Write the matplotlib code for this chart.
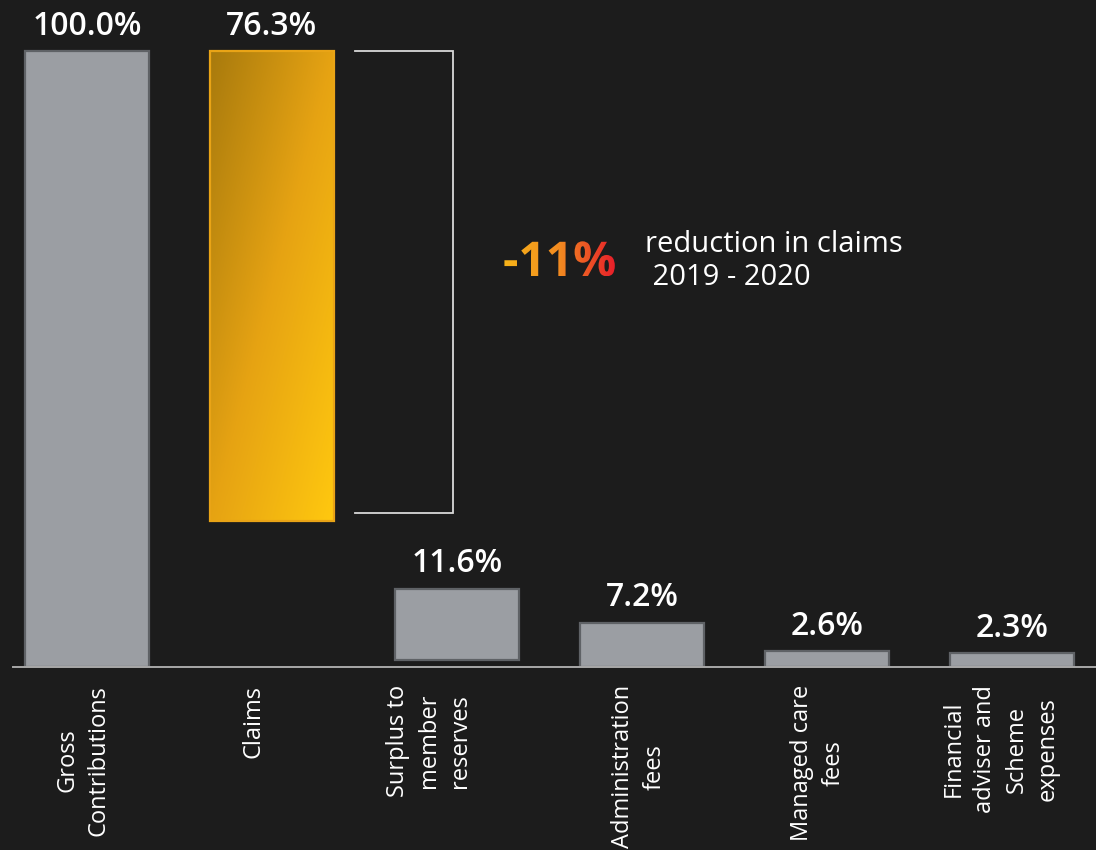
import matplotlib.pyplot as plt
import numpy as np
from matplotlib.colors import LinearSegmentedColormap
from matplotlib.font_manager import FontProperties
from matplotlib.patches import PathPatch
from matplotlib.textpath import TextPath
from matplotlib.transforms import Affine2D, ScaledTranslation

categories = ["Gross\nContributions", "Claims", "Surplus to\nmember\nreserves",
              "Administration\nfees", "Managed care\nfees",
              "Financial\nadviser and\nScheme\nexpenses"]
values = [100.0, 76.3, 11.6, 7.2, 2.6, 2.3]
bottoms = [0.0, 23.7, 1.1, 0.0, 0.0, 0.0]
labels = ["100.0%", "76.3%", "11.6%", "7.2%", "2.6%", "2.3%"]

bracket_top = 100.0
bracket_bottom = 25.0
change_text = "-11%"
change_note = "reduction in claims\n 2019 - 2020"

bg = "#1c1c1c"
grey = "#9b9ea3"
grey_edge = "#5f6266"
font = "Open Sans"
# horizontal nudge (px) for each category label
label_shift = [-4, -18, -28, -3, -9, -11]

W, H, dpi = 1096, 850, 100
fig = plt.figure(figsize=(W / dpi, H / dpi), dpi=dpi, facecolor=bg)
ax = fig.add_axes([13 / W, (H - 667) / H, 1083 / W, 665 / H])
ax.set_facecolor(bg)

x = np.arange(len(values))
bars = ax.bar(x, values, bottom=bottoms, width=0.67, color=grey,
              edgecolor=grey_edge, linewidth=1.6, zorder=2)

# claims bar gets a diagonal gold gradient
claims = bars[1]
claims.set_facecolor("none")
claims.set_edgecolor("#e9a416")
gold = LinearSegmentedColormap.from_list("gold", ["#a87a0d", "#e6a313", "#ffc80f"])
u, v = np.meshgrid(np.linspace(0, 1, 100), np.linspace(0, 1, 300))
grad = 0.5 * u + 0.5 * v
bx, by = claims.get_x(), claims.get_y()
img = ax.imshow(grad, cmap=gold, aspect="auto", origin="upper", zorder=1.5,
                extent=[bx, bx + claims.get_width(), by, by + claims.get_height()])
img.set_clip_path(claims)

for i in range(len(values)):
    ax.annotate(labels[i], (x[i], bottoms[i] + values[i]), xytext=(0, 6),
                textcoords="offset points", ha="center", va="bottom",
                color="white", fontsize=23, fontweight="semibold", family=font)

# bracket next to the claims bar
bl = x[1] + 0.33 + 0.12
br = x[1] + 0.33 + 0.65
ax.plot([bl, br, br, bl], [bracket_top, bracket_top, bracket_bottom, bracket_bottom],
        color="#d8d8d8", lw=1.3, solid_joinstyle="miter")

ax.set_xlim(-0.4, 5.455)
ax.set_ylim(0, 108)
ax.set_yticks([])
ax.set_xticks(x)
ax.set_xticklabels(categories, rotation=90, ha="center", va="top",
                   multialignment="center", color="white", fontsize=17,
                   family=font, linespacing=1.4)
ax.tick_params(axis="x", length=0, pad=13)
for lab, dx in zip(ax.get_xticklabels(), label_shift):
    lab.set_transform(lab.get_transform() + ScaledTranslation(dx / dpi, 0, fig.dpi_scale_trans))
for s in ["top", "left", "right"]:
    ax.spines[s].set_visible(False)
ax.spines["bottom"].set_color("#a8a8a8")
ax.spines["bottom"].set_linewidth(1.4)
ax.spines["bottom"].set_zorder(3)

# overlay in pixel units for the callout text
ov = fig.add_axes([0, 0, 1, 1])
ov.set_xlim(0, W)
ov.set_ylim(0, H)
ov.set_axis_off()

fig.text(645 / W, 1 - 285 / H, change_note, ha="left", va="baseline",
         color="white", fontsize=21, family=font, linespacing=1.2)

tp = TextPath((0, 0), change_text, size=34.5,
              prop=FontProperties(family=font, weight="bold"))
tp = tp.transformed(Affine2D().scale(dpi / 72).translate(503, H - 276))
tpatch = PathPatch(tp, facecolor="none", edgecolor="none", transform=ov.transData)
ov.add_patch(tpatch)
ext = tp.get_extents()
hot = LinearSegmentedColormap.from_list("hot", ["#f7b419", "#f28a20", "#e8202a"])
timg = ov.imshow(np.linspace(0, 1, 200)[None, :], cmap=hot, aspect="auto",
                 extent=[ext.x0, ext.x1, ext.y0, ext.y1])
timg.set_clip_path(tpatch)
ov.set_xlim(0, W)
ov.set_ylim(0, H)

fig.savefig("out.png", dpi=dpi, facecolor=bg)
